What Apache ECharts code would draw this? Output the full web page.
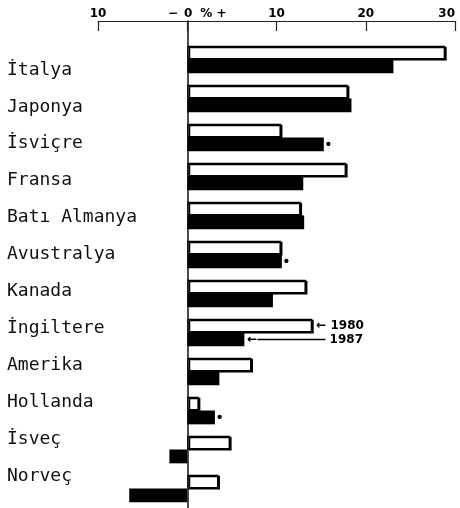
<!DOCTYPE html>
<html>
<head>
<meta charset="utf-8">
<script src="https://cdn.jsdelivr.net/npm/echarts@6.0.0/dist/echarts.min.js"></script>
<style>
  html, body { margin: 0; padding: 0; background: #fff; }
  #main { width: 460px; height: 508px; }
</style>
</head>
<body>
<div id="main"></div>
<script>
// veriler
const categories = ['İtalya', 'Japonya', 'İsviçre', 'Fransa', 'Batı Almanya', 'Avustralya',
  'Kanada', 'İngiltere', 'Amerika', 'Hollanda', 'İsveç', 'Norveç'];
const values1980 = [28.9, 18.0, 10.5, 17.8, 12.7, 10.5, 13.3, 14.0, 7.2, 1.3, 4.8, 3.5];
const values1987 = [23.1, 18.4, 15.3, 13.0, 13.1, 10.6, 9.6, 6.4, 3.6, 3.1, -2.0, -6.5];
const footnotes1987 = ['', '', '•', '', '', '•', '', '', '', '•', '', ''];
const years = ['1980', '1987'];
const noteIndex = 7; // oklar İngiltere'de
const tickLabels = { '-10': '10', '0': '0', '10': '10', '20': '20', '30': '30' };

const axisFont = 'DejaVu Sans';
const labelFont = 'DejaVu Sans Mono';
const boldText = { fontFamily: axisFont, fontWeight: 'bold', fontSize: 12, color: '#000' };

var myChart = echarts.init(document.getElementById('main'));

const bars1980 = values1980.map(function (v, i) {
  if (i !== noteIndex) return v;
  return {
    value: v,
    label: Object.assign({
      show: true, position: 'right', distance: 4,
      formatter: '← ' + years[0]
    }, boldText)
  };
});

const bars1987 = values1987.map(function (v, i) {
  if (i === noteIndex) {
    return {
      value: v,
      label: {
        show: true, position: 'right', distance: 3,
        formatter: '{a|←}{l| }{t| ' + years[1] + '}',
        rich: {
          a: boldText,
          l: { width: 68, height: 1.5, backgroundColor: '#000', fontSize: 1 },
          t: boldText
        }
      }
    };
  }
  if (footnotes1987[i]) {
    return {
      value: v,
      label: {
        show: true, position: 'right', distance: 2,
        formatter: footnotes1987[i], fontSize: 15, fontWeight: 'bold', color: '#000'
      }
    };
  }
  return v;
});

var option = {
  animation: false,
  backgroundColor: '#fff',
  grid: [
    // eksen ve sıfır çizgisi
    { left: 98, right: 5, top: 21, bottom: 0 },
    // çubuklar
    { left: 98, right: 5, top: 40, height: 473 },
    // ülke adları
    { left: 98, right: 5, top: 51.5, bottom: 13.5 }
  ],
  xAxis: [
    {
      gridIndex: 0, type: 'value', position: 'top',
      min: -10, max: 30, interval: 10,
      axisLine: { show: true, onZero: false, lineStyle: { color: '#222', width: 1 } },
      axisTick: { show: true, inside: true, length: 10, lineStyle: { color: '#222', width: 1.2 } },
      splitLine: { show: false },
      axisLabel: Object.assign({
        margin: 1,
        alignMaxLabel: 'right',
        formatter: function (val) {
          if (val === 0) return '{m|−}{z|0}{r|% +}';
          return tickLabels[String(val)];
        },
        rich: {
          m: Object.assign({ padding: [0, 6, 0, 20] }, boldText),
          z: boldText,
          r: Object.assign({ padding: [0, 0, 0, 8] }, boldText)
        }
      }, boldText)
    },
    { gridIndex: 1, type: 'value', min: -10, max: 30, interval: 10, show: false },
    { gridIndex: 2, type: 'value', min: -10, max: 30, interval: 10, show: false }
  ],
  yAxis: [
    {
      gridIndex: 0, type: 'category', data: [''],
      axisLine: { show: true, onZero: true, lineStyle: { color: '#111', width: 1.5 } },
      axisTick: { show: false },
      axisLabel: { show: false },
      splitLine: { show: false }
    },
    {
      gridIndex: 1, type: 'category', inverse: true, data: categories,
      axisLine: { show: false }, axisTick: { show: false },
      axisLabel: { show: false }, splitLine: { show: false }
    },
    {
      gridIndex: 2, type: 'category', inverse: true, data: categories,
      axisLine: { show: false }, axisTick: { show: false }, splitLine: { show: false },
      axisLabel: {
        interval: 0, align: 'left', margin: 91,
        fontFamily: labelFont, fontSize: 18, color: '#111'
      }
    }
  ],
  series: [
    {
      name: years[0], type: 'bar', xAxisIndex: 1, yAxisIndex: 1,
      data: bars1980,
      barGap: '0%', barCategoryGap: '29%',
      itemStyle: {
        color: '#fff', borderColor: '#000', borderWidth: 1.5,
        shadowColor: '#000', shadowOffsetX: 1.5, shadowOffsetY: 1, shadowBlur: 0
      }
    },
    {
      name: years[1], type: 'bar', xAxisIndex: 1, yAxisIndex: 1,
      data: bars1987,
      barGap: '0%', barCategoryGap: '29%',
      itemStyle: { color: '#000' }
    }
  ]
};

myChart.setOption(option);
</script>
</body>
</html>
